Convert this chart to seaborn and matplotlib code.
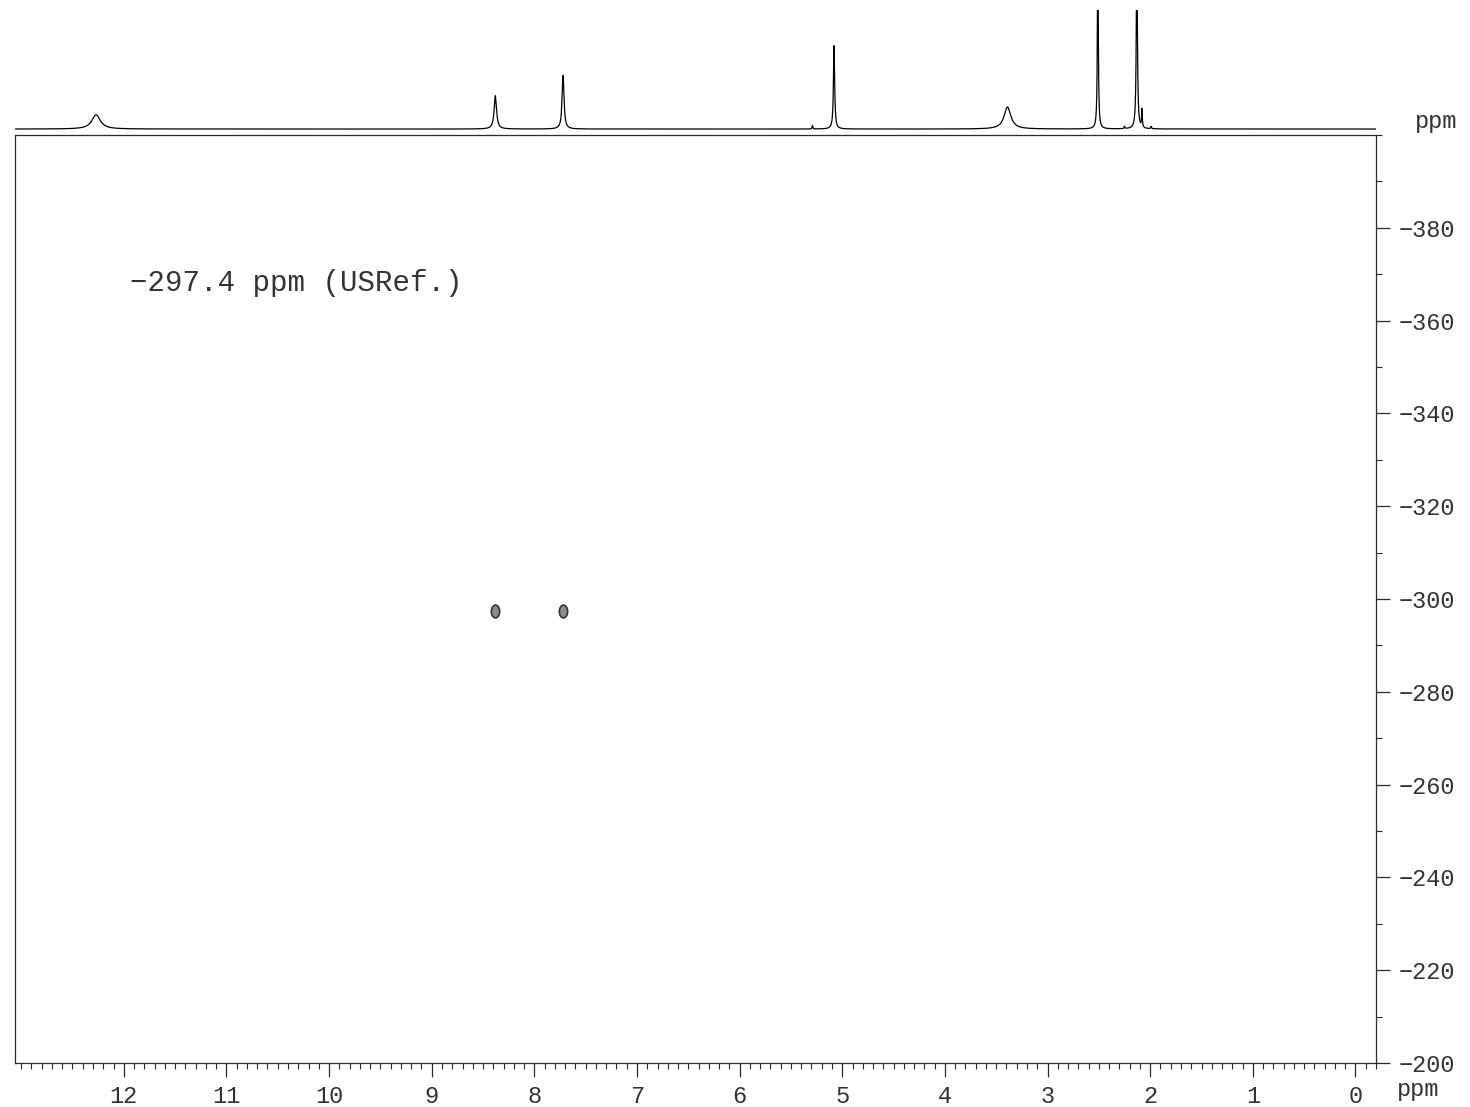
import numpy as np
import pandas as pd
import seaborn as sns
import matplotlib.pyplot as plt
from matplotlib.path import Path
from matplotlib.transforms import Affine2D
from matplotlib.ticker import MultipleLocator

# 1H projection peak list: position (ppm), relative height, half width (ppm)
peak_ppm = [12.27, 8.38, 7.72, 5.29, 5.08, 3.39, 2.51, 2.25, 2.13, 2.08, 1.99]
peak_height = [0.12, 0.28, 0.45, 0.03, 0.70, 0.185, 1.6, 0.02, 1.6, 0.15, 0.02]
peak_hwhm = [0.05, 0.014, 0.011, 0.004, 0.007, 0.04, 0.005, 0.004, 0.006, 0.004, 0.004]

# 2D cross peaks: 1H shift, 15N shift
cross_h = [8.38, 7.72]
cross_n = [-297.4, -297.4]

x_range = (13.06, -0.2)
y_range = (-200, -400)
x_ticks = list(range(0, 13))
y_ticks = list(range(-380, -199, 20))
note = "\u2212297.4 ppm (USRef.)"

# build the projection trace from the peak list
ppm = np.linspace(x_range[1], x_range[0], 40000)
inten = np.zeros_like(ppm)
for p, h, w in zip(peak_ppm, peak_height, peak_hwhm):
    inten += h / (1 + ((ppm - p) / w) ** 2)
proj = pd.DataFrame({"ppm": ppm, "I": inten})
cross = pd.DataFrame({"H": cross_h, "N": cross_n})

sns.set_style("ticks")
plt.rcParams["font.family"] = ["Liberation Mono", "DejaVu Sans"]
ink = "#2a2a2a"
label_ink = "#333333"

fig = plt.figure(figsize=(14.7, 11.07), dpi=100)
ax = fig.add_axes([15 / 1470, 44 / 1107, 1361 / 1470, 928 / 1107])
top = fig.add_axes([15 / 1470, (1107 - 130) / 1107, 1361 / 1470, 120 / 1107])

# projection
sns.lineplot(data=proj, x="ppm", y="I", ax=top, color="black", lw=0.9)
top.set_xlim(*x_range)
top.set_ylim(-0.008, 1.0)
top.axis("off")
top.text(1.044, 0.07, "ppm", transform=top.transAxes, ha="center", va="center",
         fontsize=17, color=label_ink)

# cross peaks as small ovals
oval = Path.unit_circle().transformed(Affine2D().scale(0.65, 1.0))
sns.scatterplot(data=cross, x="H", y="N", ax=ax, marker=oval, s=85,
                color="#8c8c8c", edgecolor="#333333", linewidth=1.2, zorder=3)

ax.set_xlim(*x_range)
ax.set_ylim(*y_range)
ax.set_xticks(x_ticks)
ax.set_yticks(y_ticks)
ax.xaxis.set_minor_locator(MultipleLocator(0.1))
ax.yaxis.set_minor_locator(MultipleLocator(10))
ax.yaxis.tick_right()
ax.tick_params(axis="both", which="major", direction="out", length=10, width=0.9,
               labelsize=17, colors=ink, labelcolor=label_ink, pad=6)
ax.tick_params(axis="both", which="minor", direction="out", length=4, width=0.8, colors=ink)
ax.tick_params(axis="y", which="both", left=False, right=True)

ax.set_xlabel("ppm", fontsize=17, color=label_ink)
ax.xaxis.set_label_coords(1.031, -0.029)
ax.xaxis.label.set_va("center")
ax.set_ylabel("")

for s in ax.spines.values():
    s.set_visible(True)
    s.set_color(ink)
    s.set_linewidth(0.9)

ax.text(11.94, -368, note, ha="left", va="center", fontsize=21, color=label_ink)

fig.savefig("out.png", dpi=100)
